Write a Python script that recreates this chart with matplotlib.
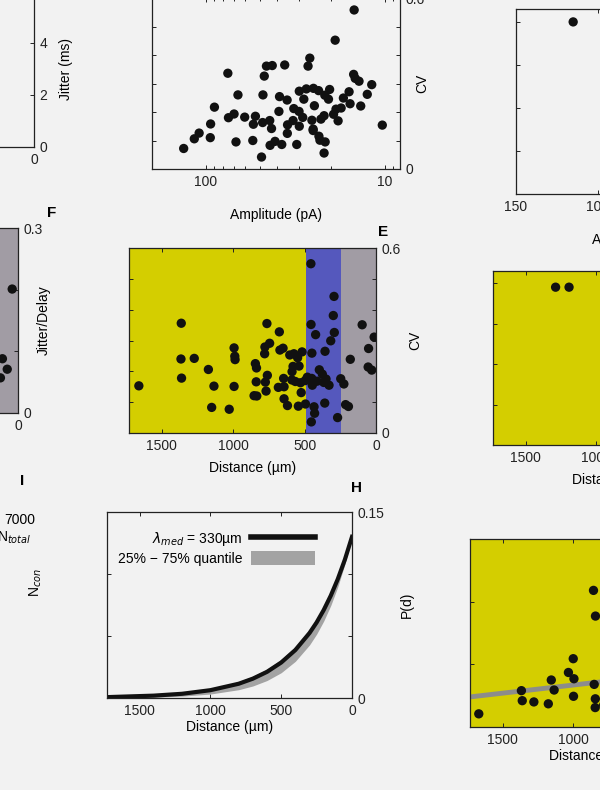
import matplotlib
matplotlib.use("Agg")
import matplotlib.pyplot as plt
from matplotlib.lines import Line2D
from matplotlib.patches import Patch

plt.rcParams["font.family"] = ["Liberation Sans", "DejaVu Sans"]
plt.rcParams["mathtext.fontset"] = "dejavusans"

# ---- data read off the (mirrored) figure ----
# top middle: CV vs amplitude
amp_pA = [14.8, 18.9, 26.2, 26.8, 36.2, 42.5, 45.8, 47.1, 75.3, 89.5, 66.1, 47.9, 38.7, 35.1,
          30.0, 27.4, 25.0, 23.4, 28.3, 24.7, 21.6, 20.6, 20.3, 17.0, 15.8, 14.9, 14.6, 13.9,
          11.8, 12.5, 15.6, 13.6, 17.5, 18.7, 19.3, 18.2, 21.8, 22.7, 25.5, 25.1, 28.7, 30.1,
          32.2, 32.5, 34.9, 30.0, 39.0, 43.9, 42.9, 48.1, 52.8, 54.2, 60.6, 69.5, 74.7, 94.0,
          109, 116, 94.4, 133, 67.8, 54.6, 48.8, 43.7, 41.0, 37.6, 35.0, 31.0, 25.1, 23.3,
          23.0, 21.5, 21.8, 10.3]
amp_cv = [0.558, 0.452, 0.389, 0.361, 0.365, 0.363, 0.361, 0.326, 0.336, 0.217, 0.260, 0.260,
          0.254, 0.242, 0.273, 0.281, 0.283, 0.275, 0.245, 0.222, 0.259, 0.245, 0.279, 0.249,
          0.271, 0.332, 0.318, 0.308, 0.296, 0.262, 0.229, 0.221, 0.214, 0.210, 0.192, 0.169,
          0.187, 0.175, 0.171, 0.140, 0.181, 0.202, 0.212, 0.170, 0.155, 0.150, 0.202, 0.170,
          0.142, 0.163, 0.185, 0.157, 0.182, 0.193, 0.180, 0.158, 0.126, 0.106, 0.110, 0.072,
          0.095, 0.100, 0.042, 0.083, 0.097, 0.086, 0.125, 0.086, 0.135, 0.115, 0.101, 0.095,
          0.056, 0.154]

# panel E: CV vs distance
dist_um = [1661, 1364, 1366, 1273, 1362, 1174, 1135, 1151, 1028, 994, 994, 989, 987, 845,
           837, 839, 854, 835, 770, 775, 761, 780, 778, 745, 764, 677, 673, 651, 684, 644,
           647, 644, 620, 589, 565, 588, 581, 604, 575, 549, 518, 539, 529, 524, 544, 494,
           496, 481, 450, 446, 434, 430, 453, 449, 455, 423, 456, 397, 376, 359, 350, 357,
           329, 317, 269, 292, 299, 294, 247, 225, 213, 193, 180, 97, 52, 55, 30, 13, 413, 366]
dist_cv = [0.153, 0.356, 0.240, 0.242, 0.178, 0.206, 0.152, 0.083, 0.077, 0.151, 0.276, 0.249,
           0.238, 0.225, 0.211, 0.166, 0.121, 0.120, 0.136, 0.165, 0.187, 0.257, 0.279, 0.291,
           0.355, 0.328, 0.269, 0.275, 0.148, 0.150, 0.177, 0.111, 0.089, 0.172, 0.167, 0.199,
           0.216, 0.253, 0.257, 0.244, 0.263, 0.217, 0.163, 0.131, 0.087, 0.094, 0.170, 0.181,
           0.177, 0.155, 0.085, 0.064, 0.036, 0.259, 0.352, 0.319, 0.549, 0.205, 0.191, 0.097,
           0.175, 0.265, 0.155, 0.299, 0.050, 0.326, 0.381, 0.443, 0.176, 0.159, 0.092, 0.086,
           0.239, 0.351, 0.274, 0.214, 0.204, 0.311, 0.168, 0.164]
band_edges_um = [0, 245, 490, 1730]
band_colors = ["#a19ca4", "#5558bd", "#d4ce00"]

# panel H: P(d) vs distance
pd_dist_um = [0, 50, 100, 150, 200, 250, 300, 400, 500, 600, 700, 800, 1000, 1200, 1400, 1730]
pd_med = [0.130, 0.1117, 0.0960, 0.0825, 0.0709, 0.0609, 0.0524, 0.0387, 0.0286, 0.0211,
          0.0156, 0.0115, 0.0063, 0.0034, 0.0019, 0.0007]
pd_q25 = [0.130, 0.108, 0.0898, 0.0746, 0.0620, 0.0515, 0.0428, 0.0296, 0.0204, 0.0141,
          0.0097, 0.0067, 0.0032, 0.0015, 0.0007, 0.0002]
pd_q75 = [0.130, 0.1127, 0.0977, 0.0847, 0.0734, 0.0636, 0.0552, 0.0415, 0.0312, 0.0234,
          0.0176, 0.0132, 0.0075, 0.0042, 0.0024, 0.0009]

# panel F (cut at left edge): Jitter/Delay vs distance
f_dist_um = [41, 110, 76, 124]
f_ratio = [0.201, 0.088, 0.071, 0.057]

# right column panels (cut at right edge)
tr_amp = [115]
tr_val = [0.40]
mr_dist = [1288, 1193]
mr_val = [0.39, 0.39]
br_dist = [1668, 1367, 1361, 1279, 1177, 1156, 1136, 1035, 996, 1001, 999, 853, 845, 846,
           858, 844, 786]
br_val = [0.21, 0.58, 0.42, 0.40, 0.37, 0.75, 0.59, 0.87, 0.77, 1.09, 0.49, 0.68, 0.45, 0.31,
          2.18, 1.77, 0.35]
br_fit_dist = [0, 1730]
br_fit_val = [0.93, 0.48]

# ---- layout helpers ----
W, H = 600, 790
BG = "#f2f2f2"
fig = plt.figure(figsize=(W / 100, H / 100), dpi=100, facecolor=BG)


def px_axes(left, top, right, bottom):
    return fig.add_axes([left / W, 1 - bottom / H, (right - left) / W, (bottom - top) / H])


def style(ax, face=BG):
    ax.set_facecolor(face)
    for s in ax.spines.values():
        s.set_linewidth(0.9)
        s.set_color("#222222")
        s.set_zorder(5)
    ax.tick_params(which="both", direction="in", top=True, bottom=True, left=True, right=True,
                   labelleft=False, labelright=True, labelsize=10, length=3, width=0.7,
                   colors="#222222", pad=4)
    ax.tick_params(which="minor", length=2)
    ax.yaxis.set_label_position("right")


def end_labels(ticks, fmt):
    return [fmt.format(t) if i in (0, len(ticks) - 1) else "" for i, t in enumerate(ticks)]


dot = dict(s=45, color="#111111", edgecolors="none", zorder=4)

# top-left partial panel
ax = px_axes(-211, -9, 34, 147)
style(ax)
ax.set_xlim(150, 0)
ax.set_xticks([0])
ax.set_ylim(0, 6)
ax.set_yticks([0, 2, 4, 6])
ax.set_ylabel("Jitter (ms)", fontsize=10, labelpad=8)

# top middle: CV vs amplitude
ax = px_axes(152, -2, 400, 169)
style(ax)
ax.scatter(amp_pA, amp_cv, **dot)
ax.set_xscale("log")
ax.set_xlim(200, 8.2)
ax.set_xticks([10, 100])
ax.set_xticklabels(["10", "100"])
ax.set_ylim(0, 0.6)
yt = [0, 0.1, 0.2, 0.3, 0.4, 0.5, 0.6]
ax.set_yticks(yt)
ax.set_yticklabels(end_labels(yt, "{:g}"))
ax.set_xlabel("Amplitude (pA)", fontsize=10, labelpad=14)
ax.set_ylabel("CV", fontsize=10, labelpad=-7)

# top right (cut)
ax = px_axes(516, 9, 761, 194)
style(ax)
ax.scatter(tr_amp, tr_val, **dot)
ax.set_xlim(150, 0)
ax.set_xticks([150, 100, 50, 0])
ax.set_ylim(0, 0.43)
ax.set_yticks([0, 0.1, 0.2, 0.3, 0.4])
ax.set_xlabel("Amplitude (pA)", fontsize=10, labelpad=14)

# panel F (cut)
ax = px_axes(-227, 228, 18, 413)
style(ax, "#a19ca4")
ax.scatter(f_dist_um, f_ratio, **dot)
ax.set_xlim(1730, 0)
ax.set_xticks([0, 500, 1000, 1500])
ax.set_ylim(0, 0.3)
yt = [0, 0.1, 0.2, 0.3]
ax.set_yticks(yt)
ax.set_yticklabels(end_labels(yt, "{:g}"))
ax.set_ylabel("Jitter/Delay", fontsize=10, labelpad=-4)

# panel E: CV vs distance with coloured bands
ax = px_axes(129, 248, 376, 433)
style(ax)
for lo, hi, c in zip(band_edges_um[:-1], band_edges_um[1:], band_colors):
    ax.axvspan(lo, hi, color=c, lw=0, zorder=1)
ax.scatter(dist_um, dist_cv, **dot)
ax.set_xlim(1730, 0)
ax.set_xticks([0, 500, 1000, 1500])
ax.set_ylim(0, 0.6)
yt = [0, 0.1, 0.2, 0.3, 0.4, 0.5, 0.6]
ax.set_yticks(yt)
ax.set_yticklabels(end_labels(yt, "{:g}"))
ax.set_xlabel("Distance (µm)", fontsize=10, labelpad=6)
ax.set_ylabel("CV", fontsize=10, labelpad=5)

# middle right (cut)
ax = px_axes(493, 271, 738, 445)
style(ax, "#d4ce00")
ax.scatter(mr_dist, mr_val, **dot)
ax.set_xlim(1730, 0)
ax.set_xticks([0, 500, 1000, 1500])
ax.set_ylim(0, 0.43)
ax.set_yticks([0, 0.1, 0.2, 0.3, 0.4])
ax.set_xlabel("Distance (µm)", fontsize=10, labelpad=6)

# panel H: P(d)
ax = px_axes(107, 512, 352, 698)
style(ax)
ax.fill_between(pd_dist_um, pd_q25, pd_q75, color="#a3a3a3", lw=0, zorder=2)
ax.plot(pd_dist_um, pd_med, color="#111111", lw=3, zorder=3)
ax.set_xlim(1730, 0)
ax.set_xticks([0, 500, 1000, 1500])
ax.set_ylim(0, 0.15)
yt = [0, 0.05, 0.1, 0.15]
ax.set_yticks(yt)
ax.set_yticklabels(end_labels(yt, "{:g}"))
ax.set_xlabel("Distance (µm)", fontsize=10, labelpad=2)
ax.set_ylabel("P(d)", fontsize=10, labelpad=11)
handles = [Line2D([], [], color="#111111", lw=4), Patch(color="#a3a3a3", lw=0)]
ax.legend(handles, [r"$\lambda_{med}$ = 330µm", "25% − 75% quantile"], loc="upper right",
          bbox_to_anchor=(0.9, 0.97), frameon=False, markerfirst=False, fontsize=10,
          handlelength=4.6, handleheight=1.2, labelspacing=0.2, handletextpad=0.6)

# bottom right (cut)
ax = px_axes(470, 539, 715, 727)
style(ax, "#d4ce00")
ax.plot(br_fit_dist, br_fit_val, color="#8c8c8c", lw=3.5, zorder=3)
ax.scatter(br_dist, br_val, **dot)
ax.set_xlim(1730, 0)
ax.set_xticks([0, 500, 1000, 1500])
ax.set_ylim(0, 3)
ax.set_yticks([0, 1, 2, 3])
ax.set_xlabel("Distance (µm)", fontsize=10, labelpad=2)

# panel I (only its right edge text is in view)
fig.text(20 / W, 1 - 520 / H, "7000", fontsize=10, ha="center", va="center")
fig.text(14 / W, 1 - 538 / H, r"N$_{total}$", fontsize=10, ha="center", va="center")
fig.text(36 / W, 1 - 583 / H, r"N$_{con}$", fontsize=10, ha="center", va="center", rotation=90)

# panel letters
for lab, x, y in [("F", 52, 213), ("E", 383, 232), ("H", 356, 488), ("I", 22, 481)]:
    fig.text(x / W, 1 - y / H, lab, fontsize=11, fontweight="bold", ha="center", va="center")

fig.savefig("out.png", dpi=100, facecolor=BG)
